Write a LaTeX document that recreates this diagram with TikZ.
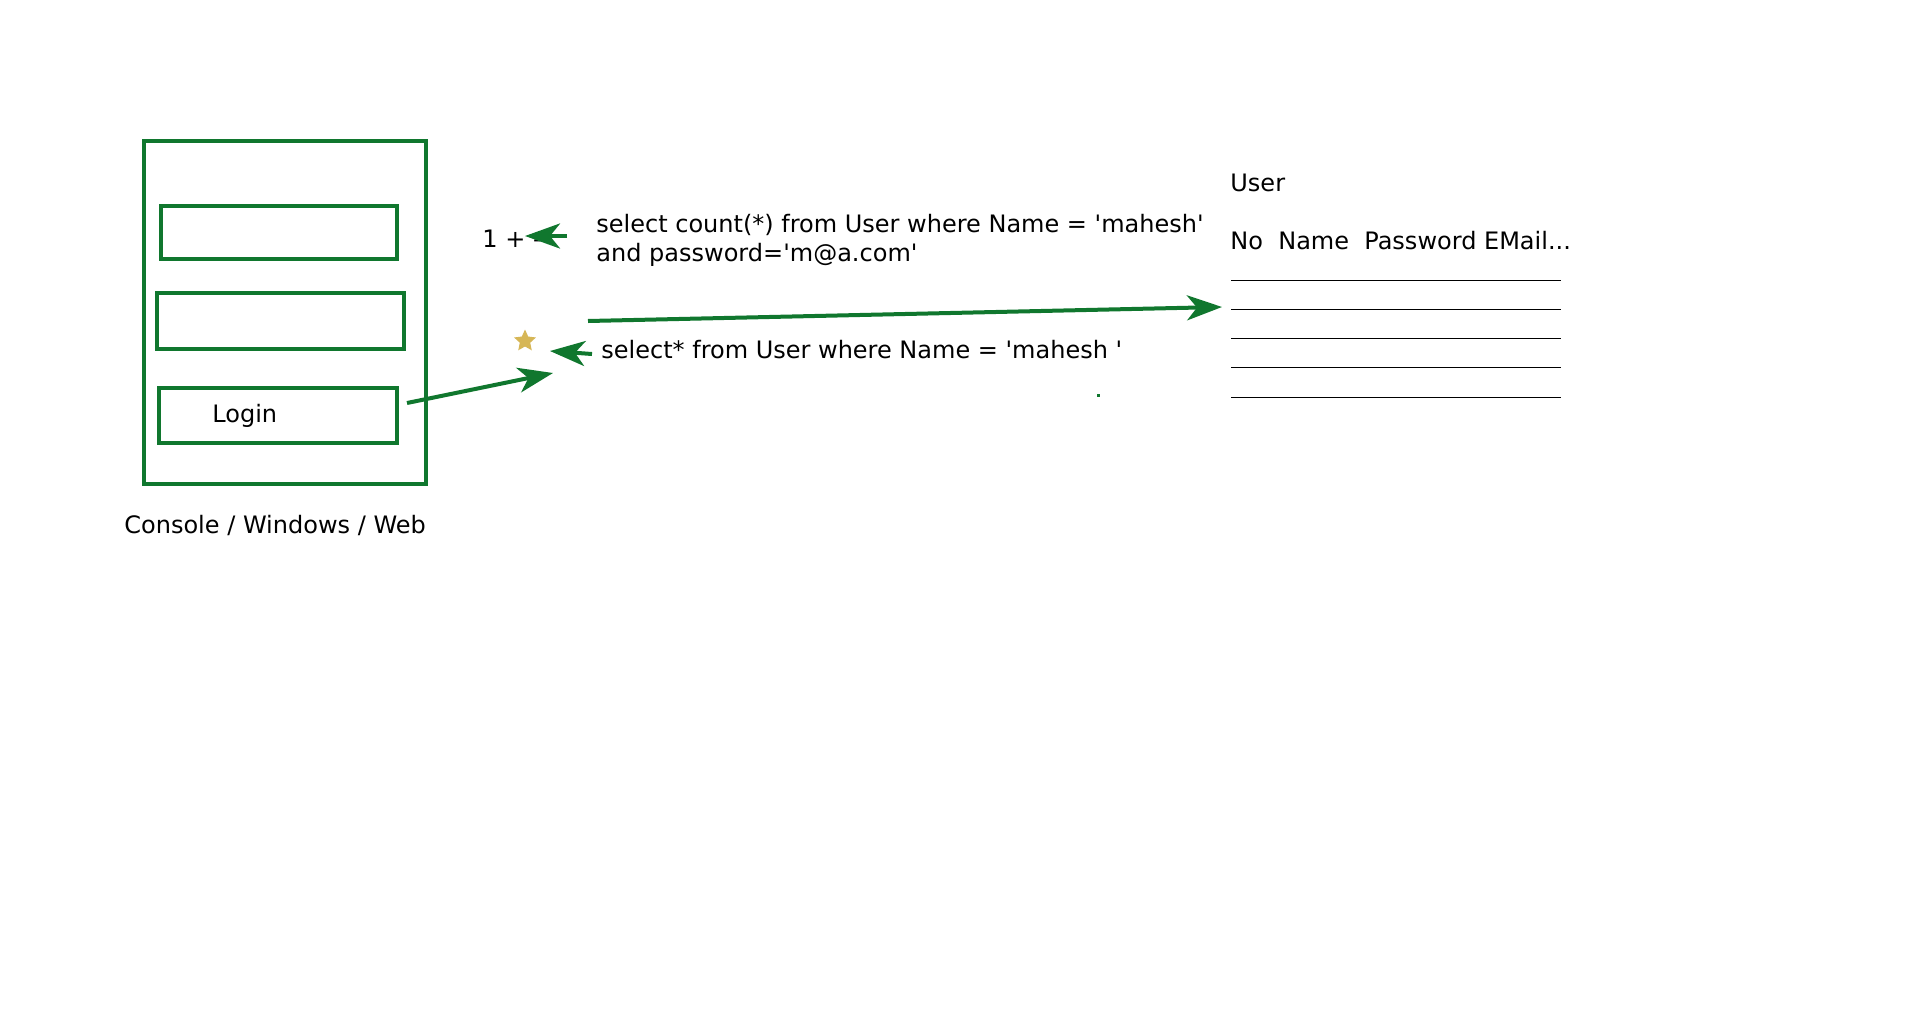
\documentclass[tikz,border=0pt]{standalone}
\usepackage{fontspec}
\setmainfont{DejaVu Sans}[Ligatures=TeXOff]
\usetikzlibrary{arrows.meta,shapes.geometric}
\definecolor{dgreen}{RGB}{16,119,46}
\definecolor{gold}{RGB}{214,182,86}
\begin{document}
\begin{tikzpicture}[x=0.5pt,y=-0.5pt,
  box/.style={draw=dgreen,line width=2pt,rectangle,inner sep=0pt},
  lbl/.style={anchor=base west,inner sep=0pt,font=\fontsize{12}{14.5}\selectfont},
  conn/.style={draw=dgreen,line width=2pt,-{Stealth[length=17.5pt,width=12.5pt,inset=5pt]}},
  row/.style={draw=black,line width=0.5pt}]
\useasboundingbox[fill=white] (0,0) rectangle (1920,1017);
% client window
\node[box,minimum width=141pt,minimum height=171.5pt] (win) at (285,312.5) {};
\node[box,minimum width=118pt,minimum height=26.5pt] (f1) at (279,232.5) {};
\node[box,minimum width=123.5pt,minimum height=28pt] (f2) at (280.5,321) {};
\node[box,minimum width=119pt,minimum height=27.5pt] (login) at (278,415.5) {};
\node[lbl] (logintxt) at (212,422) {Login};
\node[lbl] (cap) at (124,533) {Console / Windows / Web};
% queries
\node[lbl] (one) at (482,247) {1 + -};
\node[lbl,align=left] (q1) at (596,261) {select count(*) from User where Name = 'mahesh'\\and password='m@a.com'};
\node[lbl] (q2) at (601,358) {select* from User where Name = 'mahesh '};
\node[star,star points=5,star point ratio=2.1,fill=gold,inner sep=0pt,minimum size=11.5pt] (st) at (525,341) {};
\node[fill=dgreen,inner sep=0pt,minimum size=1.5pt] (dot) at (1098,395) {};
% table
\node[lbl] (user) at (1230,191) {User};
\node[lbl] (hdr) at (1230,249) {No\ \ Name\ \ Password EMail...};
\foreach \yy/\nm in {280/r1,309/r2,338/r3,367/r4,397/r5}{
  \coordinate (\nm a) at (1231,\yy);
  \coordinate (\nm b) at (1561,\yy);
  \draw[row] (\nm a) -- (\nm b);
}
% arrows
\coordinate (a1s) at (567,236); \coordinate (a1e) at (525,236);
\coordinate (a2s) at (588,321); \coordinate (a2e) at (1222,307);
\coordinate (a3s) at (592,354); \coordinate (a3e) at (550,351);
\coordinate (a4s) at (407,403); \coordinate (a4e) at (553,373);
\draw[conn] (a1s) -- (a1e);
\draw[conn] (a2s) -- (a2e);
\draw[conn] (a3s) -- (a3e);
\draw[conn] (a4s) -- (a4e);
\end{tikzpicture}
\end{document}
